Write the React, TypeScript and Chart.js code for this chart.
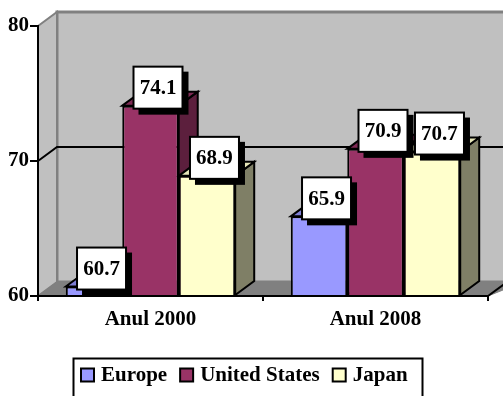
import React, { useEffect, useRef } from "react";
import { Chart, registerables } from "chart.js";

Chart.register(...registerables);

const categories = ["Anul 2000", "Anul 2008"];
const europe = [60.7, 65.9];
const unitedStates = [74.1, 70.9];
const japan = [68.9, 70.7];
const yTicks = [60, 70, 80];

const FONT = "'Liberation Serif', 'Times New Roman', serif";
const DX = 19;
const DY = 14;

const sideColors = ["#4d4d80", "#5c1f3d", "#7f7f66"];
const topColors = ["#7f7fd6", "#7f2a55", "#e6e6b8"];

function poly(ctx: CanvasRenderingContext2D, pts: number[][], fill: string | null, stroke: string | null, lw = 2) {
  ctx.beginPath();
  pts.forEach((p, i) => (i ? ctx.lineTo(p[0], p[1]) : ctx.moveTo(p[0], p[1])));
  ctx.closePath();
  if (fill) {
    ctx.fillStyle = fill;
    ctx.fill();
  }
  if (stroke) {
    ctx.strokeStyle = stroke;
    ctx.lineWidth = lw;
    ctx.stroke();
  }
}

const scene3d = {
  id: "scene3d",
  beforeDatasetsDraw(chart: any) {
    const { ctx, chartArea: a, scales } = chart;
    const W = chart.width + 20;
    ctx.save();
    poly(ctx, [[a.left + DX, a.top - DY], [W, a.top - DY], [W, a.bottom - DY], [a.left + DX, a.bottom - DY]], "#c0c0c0", "#808080", 3);
    poly(ctx, [[a.left, a.top], [a.left + DX, a.top - DY], [a.left + DX, a.bottom - DY], [a.left, a.bottom]], "#c0c0c0", "#808080", 2);
    poly(ctx, [[a.left, a.bottom], [a.left + DX, a.bottom - DY], [W, a.bottom - DY], [a.right, a.bottom]], "#808080", "#808080", 1);
    ctx.strokeStyle = "#000";
    ctx.lineWidth = 2;
    const y = scales.y.getPixelForValue(70);
    ctx.beginPath();
    ctx.moveTo(a.left, y);
    ctx.lineTo(a.left + DX, y - DY);
    ctx.lineTo(W, y - DY);
    ctx.stroke();
    ctx.beginPath();
    ctx.moveTo(a.right, a.bottom);
    ctx.lineTo(a.right + DX, a.bottom - DY);
    ctx.stroke();
    chart.data.datasets.forEach((_: any, di: number) => {
      chart.getDatasetMeta(di).data.forEach((b: any) => {
        const l = b.x - b.width / 2;
        const r = b.x + b.width / 2;
        poly(ctx, [[r, b.y], [r + DX, b.y - DY], [r + DX, b.base - DY], [r, b.base]], sideColors[di], "#000");
        poly(ctx, [[l, b.y], [l + DX, b.y - DY], [r + DX, b.y - DY], [r, b.y]], topColors[di], "#000");
      });
    });
    ctx.restore();
  },
};

const boxLabels = {
  id: "boxLabels",
  afterDatasetsDraw(chart: any) {
    const { ctx } = chart;
    ctx.save();
    chart.data.datasets.forEach((ds: any, di: number) => {
      chart.getDatasetMeta(di).data.forEach((b: any, i: number) => {
        const cx = b.x + 7.5;
        const cy = b.y - 18;
        const w = 49;
        const h = 42;
        ctx.fillStyle = "#000";
        ctx.fillRect(cx - w / 2 + 5, cy - h / 2 + 5, w + 1, h + 1);
        ctx.fillStyle = "#fff";
        ctx.strokeStyle = "#000";
        ctx.lineWidth = 2;
        ctx.fillRect(cx - w / 2, cy - h / 2, w, h);
        ctx.strokeRect(cx - w / 2, cy - h / 2, w, h);
        ctx.fillStyle = "#000";
        ctx.font = `bold 21px ${FONT}`;
        ctx.textAlign = "center";
        ctx.textBaseline = "middle";
        ctx.fillText(ds.data[i].toFixed(1), cx, cy + 1);
      });
    });
    ctx.restore();
  },
  afterDraw(chart: any) {
    const { ctx } = chart;
    ctx.save();
    ctx.strokeStyle = "#000";
    ctx.lineWidth = 2;
    ctx.strokeRect(73.5, 358.5, 349, 60);
    let x = 81;
    ctx.font = `bold 21px ${FONT}`;
    ctx.textAlign = "left";
    ctx.textBaseline = "middle";
    chart.data.datasets.forEach((ds: any) => {
      ctx.fillStyle = ds.backgroundColor;
      ctx.fillRect(x, 368.5, 13, 13);
      ctx.strokeRect(x, 368.5, 13, 13);
      ctx.fillStyle = "#000";
      ctx.fillText(ds.label, x + 20, 376);
      x += 20 + ctx.measureText(ds.label).width + 13;
    });
    ctx.restore();
  },
};

export default function App() {
  const ref = useRef<HTMLCanvasElement>(null);
  useEffect(() => {
    const chart = new Chart(ref.current!, {
      type: "bar",
      data: {
        labels: categories,
        datasets: [
          { label: "Europe", data: europe, backgroundColor: "#9999ff" },
          { label: "United States", data: unitedStates, backgroundColor: "#993366" },
          { label: "Japan", data: japan, backgroundColor: "#ffffcc" },
        ].map((d) => ({ ...d, base: 60, borderColor: "#000", borderWidth: 2, barPercentage: 1, categoryPercentage: 0.753 })),
      },
      plugins: [scene3d, boxLabels],
      options: {
        responsive: false,
        animation: false,
        layout: { padding: { top: 26, right: 15, left: 0, bottom: 0 } },
        plugins: {
          tooltip: { enabled: false },
          legend: { display: false },
        },
        scales: {
          x: {
            grid: { drawOnChartArea: false, drawTicks: true, tickLength: 5, color: "#000", lineWidth: 2, z: 1 },
            border: { color: "#000", width: 2, z: 1 },
            ticks: { color: "#000", padding: 6, font: { family: FONT, size: 21, weight: "bold" } },
            afterFit(s: any) {
              s.height = 100;
            },
          },
          y: {
            min: 60,
            max: 80,
            afterBuildTicks(s: any) {
              s.ticks = yTicks.map((value) => ({ value }));
            },
            grid: { drawOnChartArea: false, drawTicks: true, tickLength: 8, color: "#000", lineWidth: 2, z: 1 },
            border: { color: "#000", width: 2, z: 1 },
            ticks: { color: "#000", padding: 1, font: { family: FONT, size: 21, weight: "bold" } },
            afterFit(s: any) {
              s.width = 38;
            },
          },
        },
      },
    } as any);
    return () => chart.destroy();
  }, []);
  return (
    <canvas
      ref={ref}
      width={503}
      height={396}
      style={{ position: "absolute", left: 0, top: 0, width: 503, height: 396, display: "block" }}
    />
  );
}
